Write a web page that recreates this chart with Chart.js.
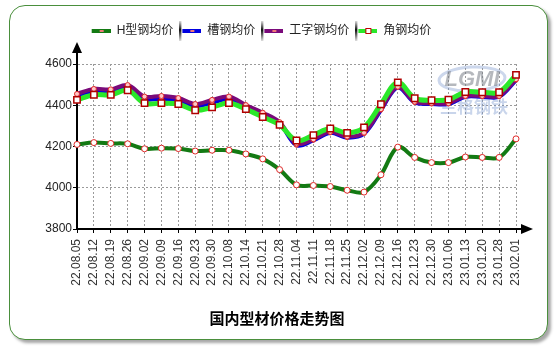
<!DOCTYPE html>
<html>
<head>
<meta charset="utf-8">
<script src="https://cdn.jsdelivr.net/npm/chart.js@4.4.1/dist/chart.umd.min.js"></script>
<style>
html, body { margin: 0; padding: 0; background: #fff; }
#wrap { position: relative; width: 554px; height: 348px; overflow: hidden; }
#frame {
    position: absolute; left: 9px; top: 5px; width: 537px; height: 333px;
    border: 1px solid #4a8f3c; border-radius: 16px;
    box-shadow: 3px 3px 3px rgba(0, 0, 0, 0.35); background: #fff;
}
#priceChart { position: absolute; left: 0; top: 0; }
</style>
</head>
<body>
<div id="wrap">
    <div id="frame"></div>
    <canvas id="priceChart" width="554" height="348"></canvas>
</div>
<script>
const labels = ['22.08.05', '22.08.12', '22.08.19', '22.08.26', '22.09.02', '22.09.09', '22.09.16',
    '22.09.23', '22.09.30', '22.10.08', '22.10.14', '22.10.21', '22.10.28', '22.11.04', '22.11.11',
    '22.11.18', '22.11.25', '22.12.02', '22.12.09', '22.12.16', '22.12.23', '22.12.30', '23.01.06',
    '23.01.13', '23.01.20', '23.01.28', '23.02.01'];

// H型钢
const hBeam = [4210, 4219, 4215, 4213, 4189, 4192, 4190, 4178, 4182, 4182, 4164, 4140, 4088, 4014, 4011,
    4006, 3988, 3979, 4063, 4197, 4147, 4122, 4122, 4149, 4147, 4147, 4237];
// 槽钢
const channel = [4443, 4468, 4466, 4488, 4430, 4432, 4424, 4395, 4412, 4430, 4393, 4356, 4312, 4206, 4230,
    4266, 4243, 4262, 4376, 4486, 4413, 4406, 4406, 4441, 4441, 4441, 4521];
// 工字钢
const iBeam = [4455, 4479, 4477, 4498, 4442, 4445, 4435, 4406, 4426, 4442, 4401, 4364, 4318, 4214, 4235,
    4271, 4248, 4267, 4381, 4490, 4417, 4410, 4410, 4445, 4445, 4445, 4526];
// 角钢
const angle = [4426, 4451, 4450, 4473, 4410, 4410, 4406, 4376, 4390, 4411, 4381, 4343, 4305, 4229, 4255,
    4287, 4266, 4293, 4405, 4511, 4434, 4424, 4427, 4464, 4463, 4463, 4547];

const seriesNames = ['H型钢均价', '槽钢均价', '工字钢均价', '角钢均价'];
const yTicks = [3800, 4000, 4200, 4400, 4600];

const FONT = "'Liberation Sans', 'Noto Sans CJK SC', sans-serif";

// small legend icon: separator bar + line sample + marker
function legendIcon(color, squareMarker, separator) {
    const c = document.createElement('canvas');
    c.width = 22; c.height = 22;
    const g = c.getContext('2d');
    if (separator) {
        const grad = g.createLinearGradient(0, 0, 0, 22);
        grad.addColorStop(0, 'rgba(0,0,0,0.05)');
        grad.addColorStop(0.45, 'rgba(0,0,0,0.95)');
        grad.addColorStop(1, 'rgba(0,0,0,0.05)');
        g.fillStyle = grad;
        g.fillRect(0, 1, 2, 20);
    }
    g.fillStyle = color;
    g.fillRect(3, 9, 19, 4);
    if (squareMarker) {
        g.fillStyle = '#fff';
        g.fillRect(10, 8, 6, 6);
        g.strokeStyle = '#c00000';
        g.lineWidth = 1;
        g.strokeRect(10.5, 8.5, 5, 5);
    } else {
        g.fillStyle = '#f07878';
        g.fillRect(11, 10, 4, 2);
    }
    return c;
}

const legendIcons = [
    legendIcon('#137a13', false, false),
    legendIcon('#0000e0', false, true),
    legendIcon('#7a0a7a', false, true),
    legendIcon('#2ae82a', true, true)
];

const decor = {
    id: 'decor',
    afterLayout(chart) {
        const lg = chart.legend;
        const h = lg.bottom - lg.top;
        lg.top = 19; lg.bottom = 19 + h;
        lg.right -= 34; lg.width -= 34;
    },
    beforeDatasetsDraw(chart) {
        const ctx = chart.ctx;
        ctx.save();
        ctx.strokeStyle = 'rgba(110,140,200,0.35)';
        ctx.lineWidth = 3;
        ctx.beginPath();
        ctx.ellipse(472, 79, 33, 12, -0.05, 0, Math.PI * 2);
        ctx.stroke();
        ctx.font = "italic bold 22px 'Liberation Sans'";
        ctx.fillStyle = 'rgba(120,125,135,0.55)';
        ctx.textAlign = 'center';
        ctx.textBaseline = 'middle';
        ctx.fillText('LGMI', 472, 80);
        ctx.font = "bold 17px 'Noto Sans CJK SC'";
        ctx.fillStyle = 'rgba(120,150,205,0.4)';
        ctx.fillText('兰格钢铁', 474, 107);
        ctx.restore();
    },
    afterDraw(chart) {
        const ctx = chart.ctx;
        const a = chart.chartArea;
        ctx.save();
        ctx.strokeStyle = '#000';
        ctx.lineWidth = 2;
        ctx.beginPath();
        ctx.moveTo(a.left, a.top);
        ctx.lineTo(a.left, a.top - 14);
        ctx.moveTo(a.right, a.bottom);
        ctx.lineTo(a.right + 6, a.bottom);
        ctx.stroke();
        ctx.fillStyle = '#000';
        ctx.beginPath();
        ctx.moveTo(a.left, a.top - 22);
        ctx.lineTo(a.left - 5, a.top - 11);
        ctx.lineTo(a.left + 5, a.top - 11);
        ctx.closePath();
        ctx.fill();
        ctx.beginPath();
        ctx.moveTo(a.right + 17, a.bottom);
        ctx.lineTo(a.right + 5, a.bottom - 5);
        ctx.lineTo(a.right + 5, a.bottom + 5);
        ctx.closePath();
        ctx.fill();
        ctx.restore();
    }
};

const config = {
    type: 'line',
    data: {
        labels: labels,
        datasets: [
            {
                label: seriesNames[0], data: hBeam, order: 3,
                borderColor: '#137a13', borderWidth: 4, tension: 0.35,
                pointStyle: 'circle', pointRadius: 3, pointBackgroundColor: '#fff',
                pointBorderColor: '#e02828', pointBorderWidth: 1, clip: false
            },
            {
                label: seriesNames[1], data: channel, order: 2,
                borderColor: '#0000e0', borderWidth: 4, tension: 0.35,
                pointStyle: 'circle', pointRadius: 2, pointBackgroundColor: '#ff9a9a',
                pointBorderColor: '#e02828', pointBorderWidth: 1, clip: false
            },
            {
                label: seriesNames[2], data: iBeam, order: 1,
                borderColor: '#7a0a7a', borderWidth: 4, tension: 0.35,
                pointStyle: 'circle', pointRadius: 2.5, pointBackgroundColor: '#ffc8c8',
                pointBorderColor: '#e02828', pointBorderWidth: 1, clip: false
            },
            {
                label: seriesNames[3], data: angle, order: 0,
                borderColor: '#2ae82a', borderWidth: 5, tension: 0.35,
                pointStyle: 'rect', pointRadius: 4.5, pointBackgroundColor: '#fff',
                pointBorderColor: '#b00000', pointBorderWidth: 1.5, clip: false
            }
        ]
    },
    options: {
        responsive: false,
        animation: false,
        events: [],
        layout: { padding: { top: 36, left: 0, right: 0, bottom: 0 } },
        scales: {
            x: {
                offset: false,
                grid: { color: '#9a9a9a', lineWidth: 1, offset: false, tickLength: 4, tickColor: '#000', tickWidth: 1 },
                border: { color: '#000', width: 2, dash: [2, 2] },
                ticks: {
                    autoSkip: false, maxRotation: 90, minRotation: 90, padding: 6,
                    color: '#333', font: { family: FONT, size: 12 }
                },
                afterFit: (s) => { s.height = 82; }
            },
            y: {
                min: yTicks[0],
                max: yTicks[yTicks.length - 1],
                afterBuildTicks: (s) => { s.ticks = yTicks.map(v => ({ value: v })); },
                grid: { color: '#9a9a9a', lineWidth: 1, tickLength: 4, tickColor: '#000', tickWidth: 1 },
                border: { color: '#000', width: 2, dash: [2, 2] },
                ticks: {
                    padding: 1, color: '#222', font: { family: FONT, size: 12 },
                    callback: (v) => String(v)
                },
                afterFit: (s) => { s.width = 77; }
            },
            yr: {
                position: 'right',
                display: true,
                grid: { display: false },
                border: { display: false },
                ticks: { display: false },
                afterFit: (s) => { s.width = 38; }
            }
        },
        plugins: {
            legend: {
                position: 'top',
                labels: {
                    usePointStyle: true,
                    pointStyleWidth: 22,
                    padding: 6,
                    color: '#222',
                    font: { family: FONT, size: 12 },
                    generateLabels: (chart) => chart.data.datasets.map((ds, i) => ({
                        text: ds.label,
                        fillStyle: ds.borderColor,
                        strokeStyle: ds.borderColor,
                        lineWidth: 0,
                        hidden: false,
                        pointStyle: legendIcons[i],
                        fontColor: '#222',
                        datasetIndex: i
                    }))
                }
            },
            title: {
                display: true,
                position: 'bottom',
                text: '国内型材价格走势图',
                color: '#000',
                font: { family: FONT, size: 15, weight: 'bold' },
                padding: { top: 0, bottom: 19 }
            },
            tooltip: { enabled: false }
        }
    },
    plugins: [decor]
};

new Chart('priceChart', config);
</script>
</body>
</html>
